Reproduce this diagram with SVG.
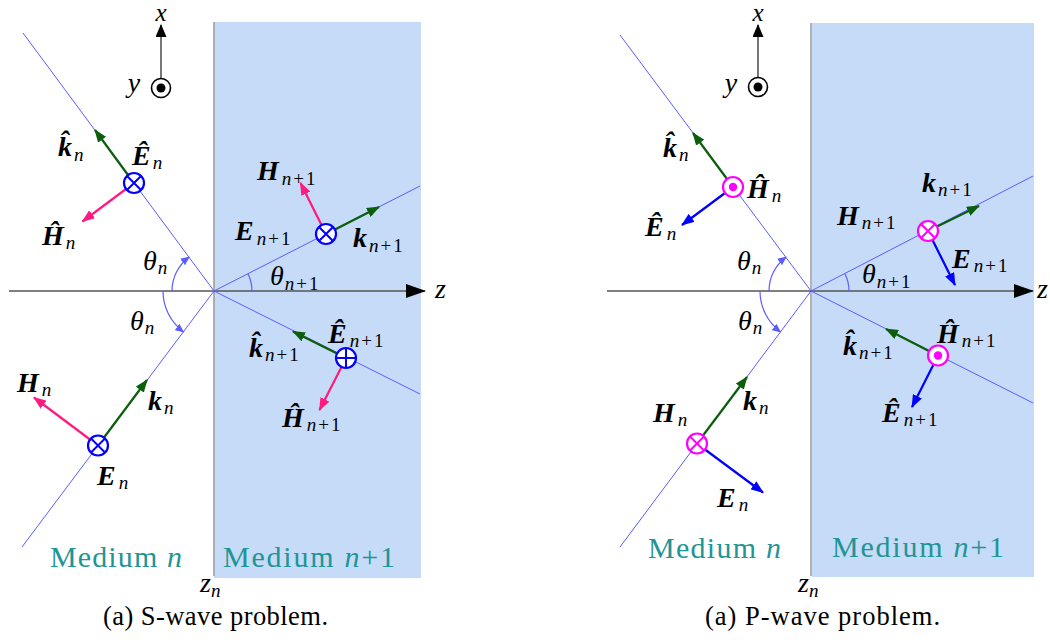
<svg xmlns="http://www.w3.org/2000/svg" width="1050" height="644" viewBox="0 0 1050 644" font-family="'Liberation Serif', Times, serif">
<style>
.med{fill:#c6dbf7;stroke:none}
.iface{stroke:#999;stroke-width:1.5}
.axis{stroke:#555;stroke-width:1.6;fill:none}
.ray{stroke:#5c5cff;stroke-width:1;fill:none}
.arc{stroke:#5c5cff;stroke-width:1.2;fill:none}
.g{stroke:#0b5e0b;stroke-width:2.2;fill:none}
.p{stroke:#ff1a80;stroke-width:2.2;fill:none}
.b{stroke:#0000ff;stroke-width:2.2;fill:none}
.cb{stroke:#0000ff;stroke-width:2.2;fill:#fff}
.cm{stroke:#ff00ff;stroke-width:2.2;fill:#fff}
.xb{stroke:#0000ff;stroke-width:2}
.xm{stroke:#ff00ff;stroke-width:2}
.dotm{fill:#ff00ff}
text{font-family:'Liberation Serif',Times,serif;fill:#000}
.v{font-size:28px;font-weight:bold;font-style:italic}
.m{font-size:28px;font-style:italic}
.ax{font-size:25px;font-style:italic}
.s{font-size:19px;font-weight:normal;font-style:italic}
.u{font-style:normal}
.med-t{font-size:30px;fill:#1f9595}
.cap{font-size:26.5px}
</style>
<defs>
<marker id="ag" markerUnits="userSpaceOnUse" markerWidth="14" markerHeight="10" refX="12" refY="5" orient="auto"><path d="M0,0 L13,5 L0,10 z" fill="#0b5e0b"/></marker>
<marker id="ap" markerUnits="userSpaceOnUse" markerWidth="14" markerHeight="10" refX="12" refY="5" orient="auto"><path d="M0,0 L13,5 L0,10 z" fill="#ff1a80"/></marker>
<marker id="ab" markerUnits="userSpaceOnUse" markerWidth="14" markerHeight="10" refX="12" refY="5" orient="auto"><path d="M0,0 L13,5 L0,10 z" fill="#0000ff"/></marker>
<marker id="ak" markerUnits="userSpaceOnUse" markerWidth="21" markerHeight="14" refX="19" refY="7" orient="auto"><path d="M0,0 L20,7 L0,14 z" fill="#000"/></marker>
<marker id="ay" markerUnits="userSpaceOnUse" markerWidth="14" markerHeight="11" refX="12" refY="5.5" orient="auto"><path d="M0,0 L13,5.5 L0,11 z" fill="#000"/></marker>
<marker id="aa" markerUnits="userSpaceOnUse" markerWidth="10" markerHeight="8" refX="8" refY="4" orient="auto"><path d="M0,0 L9,4 L0,8 z" fill="#5c5cff"/></marker>
</defs>

<!-- ===== Left panel: S-wave ===== -->
<g id="left-media">
<rect class="med" x="214" y="22" width="207" height="556"/>
<line class="iface" x1="214" y1="22" x2="214" y2="576"/>
</g>
<g id="left-connectors">
<line class="axis" x1="9" y1="291" x2="425" y2="291" marker-end="url(#ak)"/>
<line class="axis" x1="161" y1="78" x2="161" y2="25" stroke="#666" marker-end="url(#ay)"/>
<path class="ray" d="M214,291 L22,547"/>
<path class="ray" d="M214,291 L23,33"/>
<path class="ray" d="M214,291 L420,186"/>
<path class="ray" d="M214,291 L420,394"/>
<path class="arc" d="M172,291 A42,42 0 0 1 189,257.2" marker-end="url(#aa)"/>
<path class="arc" d="M163,291 A51,51 0 0 0 183.4,331.8" marker-end="url(#aa)"/>
<path class="arc" d="M252,291 A38,38 0 0 0 247.9,273.7"/>
<line class="g" x1="128" y1="175" x2="95" y2="130" marker-end="url(#ag)"/>
<line class="p" x1="126" y1="189" x2="82.5" y2="221.5" marker-end="url(#ap)"/>
<line class="g" x1="335" y1="229.5" x2="379" y2="207" marker-end="url(#ag)"/>
<line class="p" x1="321.5" y1="225" x2="300.5" y2="183" marker-end="url(#ap)"/>
<line class="g" x1="337" y1="353.5" x2="293" y2="331.5" marker-end="url(#ag)"/>
<line class="p" x1="341.5" y1="367" x2="319.5" y2="410" marker-end="url(#ap)"/>
<line class="g" x1="104" y1="437.5" x2="147" y2="380" marker-end="url(#ag)"/>
<line class="p" x1="90" y1="439.5" x2="34" y2="397.5" marker-end="url(#ap)"/>
</g>
<g id="left-ydot">
<circle cx="161" cy="88" r="9.5" fill="#fff" stroke="#000" stroke-width="1.6"/>
<circle cx="161" cy="88" r="4.5" fill="#000"/>
</g>
<g id="left-refl"><circle class="cb" cx="134" cy="183" r="10"/><path class="xb" d="M127,176 L141,190 M141,176 L127,190"/></g>
<g id="left-trans"><circle class="cb" cx="326" cy="234" r="10"/><path class="xb" d="M319,227 L333,241 M333,227 L319,241"/></g>
<g id="left-refl2"><circle class="cb" cx="346" cy="358" r="10"/><path class="xb" d="M346,348 L346,368 M336,358 L356,358"/></g>
<g id="left-inc"><circle class="cb" cx="98" cy="445.5" r="10"/><path class="xb" d="M91,438.5 L105,452.5 M105,438.5 L91,452.5"/></g>
<g id="left-labels">
<text class="ax" x="161" y="21" text-anchor="middle">x</text>
<text class="m" x="134" y="92" text-anchor="middle">y</text>
<text class="m" x="435" y="298">z</text>
<text class="v" x="58" y="156">k̂<tspan class="s" dx="2" dy="5">n</tspan></text>
<text class="v" x="132" y="165">Ê<tspan class="s" dx="2" dy="4">n</tspan></text>
<text class="v" x="42" y="245">Ĥ<tspan class="s" dx="2" dy="4">n</tspan></text>
<text class="m" x="143" y="270">θ<tspan class="s" dx="1" dy="4">n</tspan></text>
<text class="m" x="130" y="330">θ<tspan class="s" dx="1" dy="4">n</tspan></text>
<text class="m" x="270" y="285">θ<tspan class="s" dx="1" dy="5">n<tspan class="u" dx="2">+</tspan><tspan class="u" dx="2">1</tspan></tspan></text>
<text class="v" x="257" y="180">H<tspan class="s" dx="3" dy="5">n<tspan class="u" dx="2">+</tspan><tspan class="u" dx="2">1</tspan></tspan></text>
<text class="v" x="235" y="240">E<tspan class="s" dx="3" dy="5">n<tspan class="u" dx="2">+</tspan><tspan class="u" dx="2">1</tspan></tspan></text>
<text class="v" x="353" y="247">k<tspan class="s" dx="2" dy="5">n<tspan class="u" dx="2">+</tspan><tspan class="u" dx="2">1</tspan></tspan></text>
<text class="v" x="328" y="343">Ê<tspan class="s" dx="3" dy="4">n<tspan class="u" dx="2">+</tspan><tspan class="u" dx="2">1</tspan></tspan></text>
<text class="v" x="249" y="357">k̂<tspan class="s" dx="2" dy="4">n<tspan class="u" dx="2">+</tspan><tspan class="u" dx="2">1</tspan></tspan></text>
<text class="v" x="282" y="427">Ĥ<tspan class="s" dx="3" dy="4">n<tspan class="u" dx="2">+</tspan><tspan class="u" dx="2">1</tspan></tspan></text>
<text class="v" x="17" y="392">H<tspan class="s" dx="3" dy="4">n</tspan></text>
<text class="v" x="148" y="410">k<tspan class="s" dx="2" dy="4">n</tspan></text>
<text class="v" x="97" y="485">E<tspan class="s" dx="3" dy="4">n</tspan></text>
<text class="med-t" x="50" y="567" textLength="132">Medium <tspan font-style="italic">n</tspan></text>
<text class="med-t" x="223" y="567" textLength="172">Medium <tspan font-style="italic">n</tspan>+1</text>
<text class="m" x="200" y="592">z<tspan class="s" dx="0" dy="5">n</tspan></text>
<text class="cap" x="103" y="625" textLength="225">(a) S-wave problem.</text>
</g>

<!-- ===== Right panel: P-wave ===== -->
<g id="right-media">
<rect class="med" x="812" y="23" width="222" height="554"/>
<line class="iface" x1="811" y1="23" x2="811" y2="576"/>
</g>
<g id="right-connectors">
<line class="axis" x1="607" y1="291" x2="1033" y2="291" marker-end="url(#ak)"/>
<line class="axis" x1="758" y1="78" x2="758" y2="25" stroke="#333" marker-end="url(#ay)"/>
<path class="ray" d="M811,291 L620,547"/>
<path class="ray" d="M811,291 L620,35"/>
<path class="ray" d="M811,291 L1033,176"/>
<path class="ray" d="M811,291 L1033,403"/>
<path class="arc" d="M769,291 A42,42 0 0 1 786,257.2" marker-end="url(#aa)"/>
<path class="arc" d="M760,291 A51,51 0 0 0 780.4,331.8" marker-end="url(#aa)"/>
<path class="arc" d="M849,291 A38,38 0 0 0 844.9,273.7"/>
<line class="g" x1="727" y1="179" x2="693" y2="133" marker-end="url(#ag)"/>
<line class="b" x1="725" y1="193" x2="682" y2="225" marker-end="url(#ab)"/>
<line class="g" x1="937" y1="226.5" x2="979" y2="206" marker-end="url(#ag)"/>
<line class="b" x1="932.5" y1="240" x2="955" y2="285" marker-end="url(#ab)"/>
<line class="g" x1="929" y1="351" x2="886" y2="329" marker-end="url(#ag)"/>
<line class="b" x1="933.5" y1="364.5" x2="912" y2="407" marker-end="url(#ab)"/>
<line class="g" x1="703" y1="435.5" x2="747" y2="377" marker-end="url(#ag)"/>
<line class="b" x1="705" y1="449.5" x2="763" y2="492.5" marker-end="url(#ab)"/>
</g>
<g id="right-ydot">
<circle cx="758" cy="87" r="9.5" fill="#fff" stroke="#000" stroke-width="1.6"/>
<circle cx="758" cy="87" r="4.5" fill="#000"/>
</g>
<g id="right-refl"><circle class="cm" cx="733" cy="187" r="10"/><circle class="dotm" cx="733" cy="187" r="4.2"/></g>
<g id="right-trans"><circle class="cm" cx="928" cy="231" r="10"/><path class="xm" d="M921,224 L935,238 M935,224 L921,238"/></g>
<g id="right-refl2"><circle class="cm" cx="938" cy="355.5" r="10"/><circle class="dotm" cx="938" cy="355.5" r="4.2"/></g>
<g id="right-inc"><circle class="cm" cx="697" cy="443.5" r="10"/><path class="xm" d="M690,436.5 L704,450.5 M704,436.5 L690,450.5"/></g>
<g id="right-labels">
<text class="ax" x="758" y="21" text-anchor="middle">x</text>
<text class="m" x="731" y="92" text-anchor="middle">y</text>
<text class="m" x="1037" y="298">z</text>
<text class="v" x="663" y="157">k̂<tspan class="s" dx="2" dy="4">n</tspan></text>
<text class="v" x="747" y="198">Ĥ<tspan class="s" dx="3" dy="4">n</tspan></text>
<text class="v" x="645" y="236">Ê<tspan class="s" dx="3" dy="4">n</tspan></text>
<text class="m" x="737" y="270">θ<tspan class="s" dx="1" dy="4">n</tspan></text>
<text class="m" x="738" y="330">θ<tspan class="s" dx="1" dy="4">n</tspan></text>
<text class="v" x="743" y="410">k<tspan class="s" dx="2" dy="4">n</tspan></text>
<text class="v" x="653" y="422">H<tspan class="s" dx="3" dy="4">n</tspan></text>
<text class="v" x="717" y="507">E<tspan class="s" dx="3" dy="4">n</tspan></text>
<text class="v" x="922" y="192">k<tspan class="s" dx="2" dy="4">n<tspan class="u" dx="2">+</tspan><tspan class="u" dx="2">1</tspan></tspan></text>
<text class="v" x="837" y="225">H<tspan class="s" dx="3" dy="4">n<tspan class="u" dx="2">+</tspan><tspan class="u" dx="2">1</tspan></tspan></text>
<text class="v" x="952" y="268">E<tspan class="s" dx="3" dy="4">n<tspan class="u" dx="2">+</tspan><tspan class="u" dx="2">1</tspan></tspan></text>
<text class="m" x="862" y="283">θ<tspan class="s" dx="1" dy="5">n<tspan class="u" dx="2">+</tspan><tspan class="u" dx="2">1</tspan></tspan></text>
<text class="v" x="937" y="343">Ĥ<tspan class="s" dx="3" dy="4">n<tspan class="u" dx="2">+</tspan><tspan class="u" dx="2">1</tspan></tspan></text>
<text class="v" x="843" y="355">k̂<tspan class="s" dx="2" dy="4">n<tspan class="u" dx="2">+</tspan><tspan class="u" dx="2">1</tspan></tspan></text>
<text class="v" x="882" y="422">Ê<tspan class="s" dx="3" dy="4">n<tspan class="u" dx="2">+</tspan><tspan class="u" dx="2">1</tspan></tspan></text>
<text class="med-t" x="648" y="558" textLength="133">Medium <tspan font-style="italic">n</tspan></text>
<text class="med-t" x="832" y="557" textLength="172">Medium <tspan font-style="italic">n</tspan>+1</text>
<text class="m" x="798" y="592">z<tspan class="s" dx="0" dy="5">n</tspan></text>
<text class="cap" x="705" y="625" textLength="235">(a) P-wave problem.</text>
</g>
</svg>
